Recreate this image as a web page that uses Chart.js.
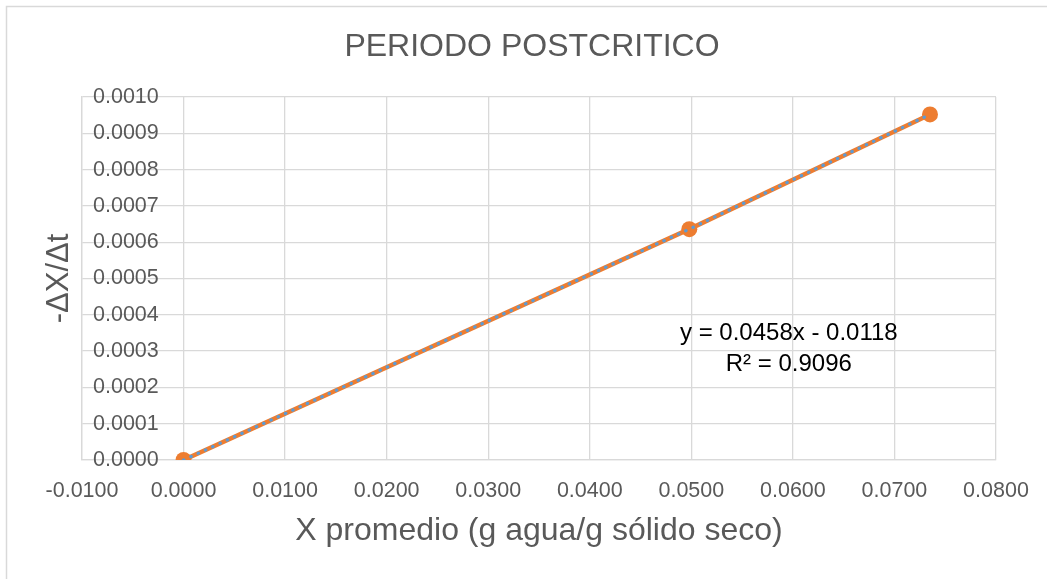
<!DOCTYPE html>
<html>
<head>
<meta charset="utf-8">
<script src="https://cdn.jsdelivr.net/npm/chart.js@4"></script>
<style>
  html, body { margin: 0; padding: 0; background: #ffffff; }
  #wrap { position: relative; width: 1047px; height: 579px; }
</style>
</head>
<body>
<div id="wrap"><canvas id="chart" width="1047" height="579"></canvas></div>
<script>
// Humedad media del sólido y velocidad de secado en el periodo postcrítico
const xPromedio = [0.0000, 0.0498, 0.0735];
const velocidadSecado = [0.0000, 0.000636, 0.000952];

// Ejes
const xTicks = { min: -0.01, max: 0.08, step: 0.01 };
const yTicks = { min: 0, max: 0.001, step: 0.0001 };

// Ecuación de la línea de tendencia
const ecuacionLineas = ['y = 0.0458x - 0.0118', 'R\u00B2 = 0.9096'];
const ecuacionAncla = { x: 0.0596, y: 0.00035 };

const FONT = "'Liberation Sans', Arial, sans-serif";
const GRID = '#d9d9d9';
const TEXTO = '#595959';

const puntos = xPromedio.map((x, i) => ({ x: x, y: velocidadSecado[i] }));

function marcas(cfg) {
  return (scale) => {
    const t = [];
    const n = Math.round((cfg.max - cfg.min) / cfg.step);
    for (let i = 0; i <= n; i++) t.push({ value: cfg.min + i * cfg.step });
    scale.ticks = t;
  };
}

// Marco exterior del gráfico
const marco = {
  id: 'marco',
  beforeDraw(chart) {
    const ctx = chart.ctx;
    ctx.save();
    ctx.strokeStyle = GRID;
    ctx.lineWidth = 1.5;
    ctx.strokeRect(6.5, 6.5, chart.width + 40, chart.height + 40);
    ctx.restore();
  }
};

// Texto de la ecuación, anclado en coordenadas de datos
const ecuacion = {
  id: 'ecuacion',
  afterDatasetsDraw(chart) {
    const ctx = chart.ctx;
    const cx = chart.scales.x.getPixelForValue(ecuacionAncla.x);
    const cy = chart.scales.y.getPixelForValue(ecuacionAncla.y);
    ctx.save();
    ctx.fillStyle = '#000000';
    ctx.font = "24px " + FONT;
    ctx.textAlign = 'center';
    ctx.textBaseline = 'middle';
    ecuacionLineas.forEach((t, i) => ctx.fillText(t, cx, cy + i * 31));
    ctx.restore();
  }
};

new Chart(document.getElementById('chart'), {
  type: 'scatter',
  data: {
    datasets: [
      {
        label: 'Tendencia',
        data: puntos,
        showLine: true,
        borderColor: '#5B9BD5',
        borderWidth: 3.2,
        borderDash: [0.4, 7.6],
        borderCapStyle: 'round',
        pointRadius: 0,
        fill: false,
        order: 0
      },
      {
        label: '-ΔX/Δt',
        data: puntos,
        showLine: true,
        borderColor: '#ED7D31',
        borderWidth: 4.5,
        backgroundColor: '#ED7D31',
        pointBackgroundColor: '#ED7D31',
        pointBorderColor: '#ED7D31',
        pointRadius: 8,
        pointBorderWidth: 0,
        fill: false,
        order: 1
      }
    ]
  },
  options: {
    responsive: false,
    devicePixelRatio: 1,
    animation: false,
    layout: { padding: { left: 17, right: 0, top: 0, bottom: 0 } },
    plugins: {
      legend: { display: false },
      tooltip: { enabled: false },
      title: {
        display: true,
        text: 'PERIODO POSTCRITICO',
        color: TEXTO,
        font: { family: FONT, size: 32, weight: 'normal', lineHeight: 1.2 },
        padding: { top: 28, bottom: 30.6 }
      }
    },
    scales: {
      x: {
        type: 'linear',
        min: xTicks.min,
        max: xTicks.max,
        afterBuildTicks: marcas(xTicks),
        afterFit(scale) { scale.height = 119; },
        grid: { color: GRID, lineWidth: 1.3, drawTicks: false },
        border: { color: GRID, width: 1.3 },
        ticks: {
          color: TEXTO,
          padding: 18,
          maxRotation: 0,
          autoSkip: false,
          font: { family: FONT, size: 21.5 },
          callback: (v) => Number(v).toFixed(4)
        },
        title: {
          display: true,
          text: 'X promedio (g agua/g sólido seco)',
          color: TEXTO,
          font: { family: FONT, size: 32, lineHeight: 1.2 },
          padding: { top: 0, bottom: 29 }
        }
      },
      y: {
        type: 'linear',
        position: 'left',
        min: yTicks.min,
        max: yTicks.max,
        afterBuildTicks: marcas(yTicks),
        afterFit(scale) { scale.width = 65; },
        grid: { color: GRID, lineWidth: 1.3, drawTicks: false },
        border: { color: GRID, width: 1.3 },
        ticks: {
          color: TEXTO,
          mirror: true,
          padding: 11,
          autoSkip: false,
          font: { family: FONT, size: 21.5 },
          callback: (v) => Number(v).toFixed(4)
        },
        title: {
          display: true,
          text: '-ΔX/Δt',
          color: TEXTO,
          font: { family: FONT, size: 31, lineHeight: 1.2 },
          padding: { top: 23.4, bottom: 0 }
        }
      },
      // margen derecho del área de trazado
      margen: {
        type: 'linear',
        position: 'right',
        display: true,
        afterFit(scale) { scale.width = 51; },
        grid: { display: false, drawTicks: false },
        border: { display: false },
        ticks: { display: false },
        title: { display: false }
      }
    }
  },
  plugins: [marco, ecuacion]
});
</script>
</body>
</html>
